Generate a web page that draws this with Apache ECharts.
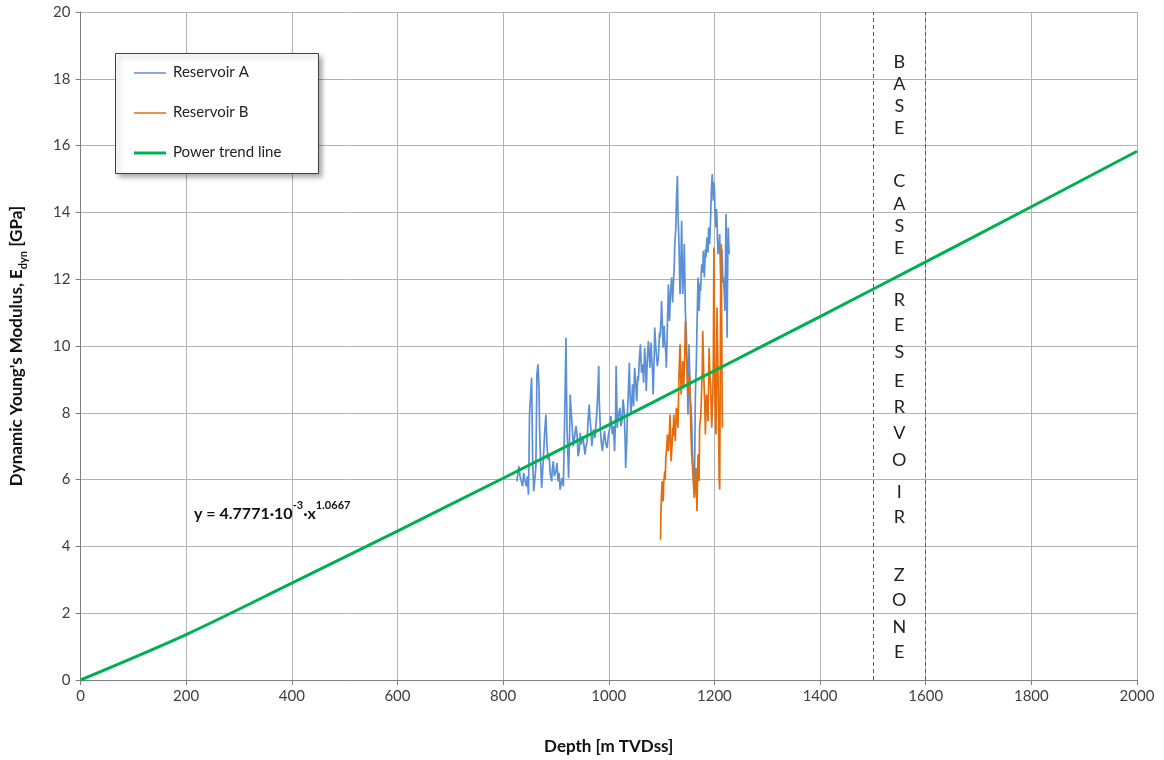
<!DOCTYPE html>
<html>
<head>
<meta charset="utf-8">
<script src="https://cdn.jsdelivr.net/npm/echarts@6/dist/echarts.min.js"></script>
<style>
html,body{margin:0;padding:0;background:#fff;}
#chart{width:1164px;height:760px;}
</style>
</head>
<body>
<div id="chart"></div>
<script>
// Reservoir A: [depth, E_dyn]
const reservoirA = [
[826,5.95],[828,6.2],[830,6.4],[832,6.1],[835,6.05],[837,5.8],[839,6.2],[841,6.0],[844,5.8],[846,6.1],
[848,5.55],[849,6.6],[850,7.95],[852,8.5],[854,9.05],[855,7.8],[856,6.55],[858,5.65],[860,6.0],[862,6.35],
[863,7.7],[864,9.15],[866,9.45],[868,8.75],[869,7.6],[871,6.55],[873,5.75],[875,6.3],[877,6.85],[879,7.5],
[881,7.95],[883,7.05],[885,6.6],[887,6.75],[889,6.2],[892,5.95],[893,6.3],[895,6.55],[897,6.1],[900,6.25],
[902,6.5],[904,5.95],[906,6.2],[908,5.7],[910,5.9],[912,6.05],[914,5.8],[915,6.55],[917,8.2],[919,10.25],
[920,8.8],[921,7.55],[923,6.6],[924,6.05],[926,7.4],[927,8.55],[929,8.0],[931,7.55],[933,7.0],[936,7.05],
[938,7.6],[940,7.35],[942,6.7],[944,6.85],[946,7.4],[948,7.05],[951,7.3],[955,6.75],[957,7.0],[959,7.15],
[961,7.8],[963,8.25],[964,7.9],[966,7.55],[968,7.0],[969,7.05],[971,7.5],[974,7.25],[976,7.7],[978,8.15],
[980,8.9],[981,9.4],[982,8.4],[984,7.55],[986,7.1],[988,6.85],[990,7.2],[992,7.45],[994,7.1],[997,6.95],
[999,7.3],[1002,7.55],[1004,7.9],[1007,7.35],[1009,7.6],[1011,6.85],[1013,8.0],[1014,9.4],[1015,8.6],[1016,7.55],
[1018,7.9],[1021,8.15],[1023,7.6],[1025,7.75],[1027,8.4],[1029,8.1],[1031,7.2],[1032,6.35],[1034,7.1],[1035,7.85],
[1037,8.6],[1039,9.5],[1040,8.7],[1042,7.95],[1044,8.5],[1045,8.85],[1047,8.2],[1049,9.35],[1051,8.9],[1053,8.35],
[1055,9.1],[1056,8.95],[1058,9.6],[1060,10.05],[1062,9.2],[1064,9.45],[1066,8.9],[1068,9.95],[1070,9.3],[1071,8.65],
[1073,9.6],[1075,10.15],[1077,9.6],[1078,9.35],[1080,10.1],[1081,9.75],[1083,9.2],[1084,8.55],[1086,9.6],[1087,10.55],
[1089,10.0],[1090,9.95],[1092,9.4],[1094,9.65],[1096,10.4],[1097,10.25],[1099,10.8],[1100,11.35],[1102,10.4],[1103,9.95],
[1105,10.6],[1106,10.15],[1108,9.8],[1109,9.35],[1111,10.6],[1113,11.85],[1114,11.2],[1115,10.75],[1117,11.6],[1119,12.05],
[1121,11.3],[1122,11.75],[1124,12.4],[1125,13.05],[1127,13.55],[1128,14.3],[1130,15.1],[1131,14.0],[1133,13.05],[1134,12.2],
[1135,11.55],[1137,12.8],[1138,13.75],[1139,12.6],[1140,11.55],[1142,12.3],[1143,13.05],[1144,12.1],[1145,11.05],[1147,10.3],
[1148,9.55],[1149,8.7],[1150,7.95],[1151,9.0],[1152,10.05],[1153,9.3],[1154,8.55],[1156,8.1],[1157,7.75],[1158,7.1],
[1159,6.55],[1161,5.9],[1162,5.55],[1163,7.0],[1164,8.55],[1166,9.6],[1167,10.55],[1168,11.3],[1169,12.05],[1170,11.4],
[1171,11.05],[1173,11.9],[1174,11.65],[1175,12.1],[1176,12.45],[1178,12.2],[1179,12.85],[1180,12.4],[1181,12.05],[1183,12.9],
[1184,12.65],[1185,13.0],[1186,13.25],[1188,12.8],[1189,13.55],[1190,13.2],[1191,13.05],[1193,13.9],[1194,14.55],[1195,14.9],
[1196,15.15],[1197,14.6],[1198,14.35],[1199,14.9],[1200,14.75],[1201,14.1],[1203,13.55],[1204,14.1],[1205,13.75],[1206,13.1],
[1207,12.75],[1209,13.0],[1210,13.35],[1211,12.6],[1212,12.05],[1214,12.9],[1215,12.55],[1216,11.9],[1217,12.05],[1219,11.5],
[1220,11.05],[1221,12.5],[1222,13.95],[1223,12.0],[1224,10.25],[1225,12.1],[1226,13.55],[1227,13.1],[1228,12.75]
];
// Reservoir B: [depth, E_dyn]
const reservoirB = [
[1098,4.2],[1099,5.15],[1100,5.6],[1101,5.95],[1102,5.5],[1103,5.35],[1104,5.9],[1106,6.25],[1107,6.0],[1108,6.65],
[1110,7.0],[1111,7.35],[1112,7.0],[1113,6.85],[1115,7.5],[1116,7.95],[1117,7.2],[1118,6.55],[1120,7.1],[1121,7.55],
[1122,7.3],[1123,7.95],[1125,7.5],[1126,7.15],[1127,7.7],[1128,8.15],[1130,7.8],[1131,7.55],[1132,8.4],[1133,9.15],
[1134,9.6],[1135,10.05],[1136,9.3],[1137,8.55],[1139,9.1],[1140,9.55],[1141,9.0],[1142,8.75],[1144,9.8],[1145,10.75],
[1146,10.0],[1148,9.55],[1149,9.0],[1150,8.55],[1152,8.9],[1153,9.15],[1154,8.4],[1155,7.75],[1156,7.2],[1157,6.75],
[1159,6.3],[1160,5.95],[1161,5.7],[1162,5.45],[1164,6.0],[1165,6.35],[1166,5.6],[1167,5.05],[1168,6.0],[1169,6.75],
[1170,6.4],[1171,5.95],[1172,7.55],[1174,7.9],[1175,8.25],[1177,9.3],[1178,10.45],[1179,9.7],[1180,9.05],[1182,8.1],
[1183,7.35],[1184,8.0],[1185,8.55],[1187,8.1],[1188,7.75],[1189,8.8],[1190,9.95],[1191,9.3],[1193,8.75],[1194,8.1],
[1195,7.55],[1197,8.6],[1198,9.55],[1199,12.95],[1200,10.5],[1201,8.55],[1202,7.9],[1203,7.35],[1204,9.2],[1205,11.15],
[1206,10.0],[1207,9.05],[1208,7.5],[1209,6.05],[1210,5.7],[1211,9.0],[1212,12.55],[1213,13.05],[1214,10.2],[1215,7.55]
];
// Power trend line
const trendDepth = [0, 200, 400, 600, 800, 1000, 1200, 1400, 1600, 1800, 2000];
const trendValue = [0, 1.36, 2.9, 4.46, 6.04, 7.64, 9.26, 10.88, 12.52, 14.17, 15.83];
const zoneBounds = [1500, 1600];
const zoneLetters = ['B','A','S','E','C','A','S','E','R','E','S','E','R','V','O','I','R','Z','O','N','E'];
const zoneLetterY = [62,84,106,128,181,204,226,248,300,325,352,381,407,433,460,492,517,575,600,627,652];
const legendNames = ['Reservoir A','Reservoir B','Power trend line'];

const FONT = 'Lato, "Open Sans", sans-serif';
const colA = '#5B8FD6', colB = '#E46C0A', colT = '#00B050';

const chart = echarts.init(document.getElementById('chart'), null, {renderer:'canvas'});

const graphics = [];
// legend box
graphics.push({type:'rect', left:115, top:53, shape:{width:203, height:120},
  style:{fill:'#fff', stroke:'#404040', lineWidth:1, shadowBlur:5, shadowOffsetX:3, shadowOffsetY:3, shadowColor:'rgba(0,0,0,0.35)'}, z:100});
const legCols = [colA, colB, colT], legW = [1.5, 1.5, 3];
legendNames.forEach((n,i)=>{
  const y = 73 + i*40;
  graphics.push({type:'line', shape:{x1:134, y1:y, x2:166, y2:y}, style:{stroke:legCols[i], lineWidth:legW[i]}, z:101});
  graphics.push({type:'text', left:173, top:y-8, style:{text:n, font:'15px '+FONT, fill:'#222'}, z:101});
});
// equation
graphics.push({type:'text', left:194, top:500, z:50, style:{
  text:'{b|y = 4.7771·10}{s|-3}{b|·x}{s|1.0667}',
  rich:{ b:{fontFamily:FONT, fontWeight:'bold', fontSize:16, fill:'#111', verticalAlign:'bottom', lineHeight:22},
         s:{fontFamily:FONT, fontWeight:'bold', fontSize:11, fill:'#111', verticalAlign:'top', lineHeight:22, padding:[0,0,4,0]} }
}});

const option = {
  animation:false,
  backgroundColor:'#fff',
  textStyle:{fontFamily:FONT},
  grid:{left:80, right:27, top:12, bottom:80, containLabel:false},
  xAxis:{
    type:'value', min:0, max:2000, interval:200,
    name:'Depth [m TVDss]', nameLocation:'middle', nameGap:58,
    nameTextStyle:{fontFamily:FONT, fontWeight:'bold', fontSize:17, color:'#111'},
    axisLine:{show:true, onZero:false, lineStyle:{color:'#7f7f7f', width:1}},
    axisTick:{show:true, length:5, lineStyle:{color:'#7f7f7f'}},
    axisLabel:{fontFamily:FONT, fontSize:15, color:'#404040', margin:9, formatter:v=>String(v)},
    splitLine:{show:true, lineStyle:{color:'#b3b3b3', width:1}}
  },
  yAxis:{
    type:'value', min:0, max:20, interval:2,
    name:"{a|Dynamic Young's Modulus, E}{s|dyn}{a| [GPa]}", nameLocation:'middle', nameGap:52,
    nameTextStyle:{rich:{
      a:{fontFamily:FONT, fontWeight:'bold', fontSize:17, color:'#111', lineHeight:24, verticalAlign:'middle'},
      s:{fontFamily:FONT, fontWeight:'bold', fontSize:11, color:'#111', lineHeight:24, verticalAlign:'bottom', padding:[8,0,0,0]}
    }},
    axisLine:{show:true, lineStyle:{color:'#7f7f7f', width:1}},
    axisTick:{show:true, length:5, lineStyle:{color:'#7f7f7f'}},
    axisLabel:{fontFamily:FONT, fontSize:15, color:'#404040', margin:10},
    splitLine:{show:true, lineStyle:{color:'#b3b3b3', width:1}}
  },
  series:[
    {name:'Reservoir A', type:'line', data:reservoirA, showSymbol:false, symbol:'none',
      lineStyle:{color:colA, width:1.7}, z:3,
      markLine:{silent:true, symbol:['none','none'], label:{show:false},
        lineStyle:{color:'#595959', type:[4,3], width:1},
        data:zoneBounds.map(v=>({xAxis:v}))}},
    {name:'Reservoir B', type:'line', data:reservoirB, showSymbol:false, symbol:'none',
      lineStyle:{color:colB, width:1.7}, z:4},
    {name:'Power trend line', type:'line', data:trendDepth.map((d,i)=>[d,trendValue[i]]), showSymbol:false, symbol:'none',
      smooth:0.3, lineStyle:{color:colT, width:3}, z:5}
  ],
  graphic:graphics
};
chart.setOption(option);

// zone label letters centred in the zone
const cx = chart.convertToPixel({xAxisIndex:0}, (zoneBounds[0]+zoneBounds[1])/2);
const extra = zoneLetters.map((L,i)=>({type:'text', x:cx, y:zoneLetterY[i], z:60,
  style:{text:L, font:'18px '+FONT, fill:'#222', align:'center', verticalAlign:'middle'}}));
chart.setOption({graphic:graphics.concat(extra)});
</script>
</body>
</html>
